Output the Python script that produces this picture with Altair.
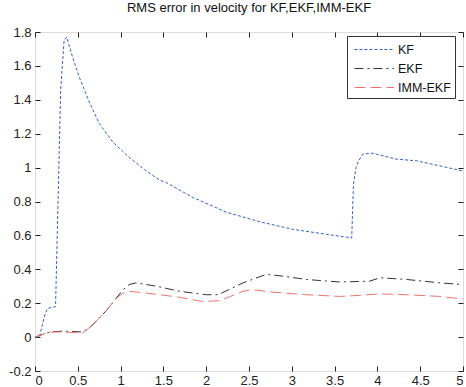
import altair as alt
import pandas as pd

# ---- data ----
kf_x = [0, 0.05, 0.12, 0.15, 0.24, 0.27, 0.30, 0.34, 0.37, 0.44, 0.52, 0.64, 0.75, 0.91,
        1.10, 1.30, 1.46, 1.54, 1.84, 2.24, 2.63, 3.01, 3.40, 3.70, 3.72, 3.75, 3.78,
        3.83, 3.94, 4.22, 4.46, 4.73, 5.0]
kf_y = [0, 0.0, 0.14, 0.17, 0.18, 0.82, 1.46, 1.75, 1.77, 1.65, 1.53, 1.38, 1.26, 1.15,
        1.06, 0.98, 0.925, 0.91, 0.825, 0.736, 0.68, 0.636, 0.607, 0.585, 0.9, 1.0, 1.04,
        1.08, 1.085, 1.05, 1.04, 1.01, 0.98]

ekf_x = [0, 0.17, 0.32, 0.56, 0.67, 0.84, 0.95, 1.03, 1.10, 1.18, 1.42, 1.69, 2.0, 2.14,
         2.43, 2.70, 2.89, 3.17, 3.56, 3.91, 4.03, 4.34, 4.73, 5.0]
ekf_y = [0, 0.03, 0.035, 0.03, 0.07, 0.16, 0.23, 0.28, 0.31, 0.32, 0.30, 0.27, 0.25, 0.25,
         0.32, 0.37, 0.36, 0.34, 0.325, 0.33, 0.35, 0.34, 0.32, 0.31]

imm_x = [0, 0.17, 0.32, 0.56, 0.67, 0.84, 0.95, 1.03, 1.10, 1.30, 1.69, 1.96, 2.16, 2.43,
         2.53, 2.78, 3.17, 3.56, 3.75, 4.03, 4.34, 4.73, 5.0]
imm_y = [0, 0.03, 0.03, 0.025, 0.07, 0.16, 0.23, 0.26, 0.27, 0.26, 0.235, 0.21, 0.215, 0.27,
         0.28, 0.265, 0.25, 0.24, 0.245, 0.255, 0.25, 0.24, 0.225]

series = ["KF", "EKF", "IMM-EKF"]
x_ticks = [0, 0.5, 1, 1.5, 2, 2.5, 3, 3.5, 4, 4.5, 5]
y_ticks = [-0.2, 0, 0.2, 0.4, 0.6, 0.8, 1.0, 1.2, 1.4, 1.6, 1.8]
title_text = "RMS error in velocity for KF,EKF,IMM-EKF"

rows = []
for name, xs, ys in zip(series, [kf_x, ekf_x, imm_x], [kf_y, ekf_y, imm_y]):
    for i, (a, b) in enumerate(zip(xs, ys)):
        rows.append({"series": name, "t": a, "v": b, "order": i})
df = pd.DataFrame(rows)

FONT = "Liberation Sans"
AX = "#222222"
lab_expr = "replace(datum.label, '\u2212', '-')"

xscale = alt.Scale(domain=[0, 5], nice=False, zero=False)
yscale = alt.Scale(domain=[-0.2, 1.8], nice=False, zero=False)

base = alt.Chart(df)

lines = base.mark_line(strokeWidth=1).encode(
    x=alt.X("t:Q", scale=xscale, title=None,
            axis=alt.Axis(values=x_ticks, format="~g", labelExpr=lab_expr, tickSize=0,
                          domain=False, grid=False, labelPadding=3, orient="bottom",
                          labelFontSize=13, labelFont=FONT, labelColor=AX)),
    y=alt.Y("v:Q", scale=yscale, title=None,
            axis=alt.Axis(values=y_ticks, format=".1~f", labelExpr=lab_expr, tickSize=0,
                          domain=False, grid=False, labelPadding=4, orient="left",
                          labelFontSize=13, labelFont=FONT, labelColor=AX)),
    color=alt.Color("series:N", sort=series,
                    scale=alt.Scale(domain=series, range=["#3a5fc8", "#333333", "#f07474"]),
                    legend=alt.Legend(title=None, orient="none", legendX=312, legendY=4,
                                      fillColor="white", strokeColor="#333333",
                                      padding=4, symbolType="M-0.67,0H3.73", symbolSize=324,
                                      symbolStrokeWidth=1, labelFontSize=12.5, labelFont=FONT,
                                      labelColor="#111111", rowPadding=3, labelOffset=28,
                                      labelExpr="datum.label + '  '")),
    strokeDash=alt.StrokeDash("series:N", sort=series,
                              scale=alt.Scale(domain=series,
                                              range=[[3, 2], [9, 4, 2, 4], [11, 5]]),
                              legend=None),
    order="order:Q",
)

def tick_layer(xorient, yorient):
    return base.mark_point(opacity=0).encode(
        x=alt.X("t:Q", scale=xscale, title=None,
                axis=alt.Axis(values=x_ticks, labels=False, tickSize=5, offset=-5,
                              domain=False, grid=False, orient=xorient, tickColor=AX)),
        y=alt.Y("v:Q", scale=yscale, title=None,
                axis=alt.Axis(values=y_ticks, labels=False, tickSize=5, offset=-5,
                              domain=False, grid=False, orient=yorient, tickColor=AX)),
    )

chart = alt.layer(lines, tick_layer("bottom", "left"), tick_layer("top", "right")).resolve_axis(
    x="independent", y="independent"
).properties(
    width=428, height=339,
    title=alt.TitleParams(title_text, fontSize=13, fontWeight="normal", font=FONT,
                          color="#111111", anchor="middle", offset=11),
    autosize=alt.AutoSizeParams(type="none"),
    padding={"left": 35, "top": 32, "right": 3, "bottom": 16},
).configure_view(stroke=AX, strokeWidth=1).configure(background="white")

chart.save("out.html", embed_options={"renderer": "svg", "actions": False})
